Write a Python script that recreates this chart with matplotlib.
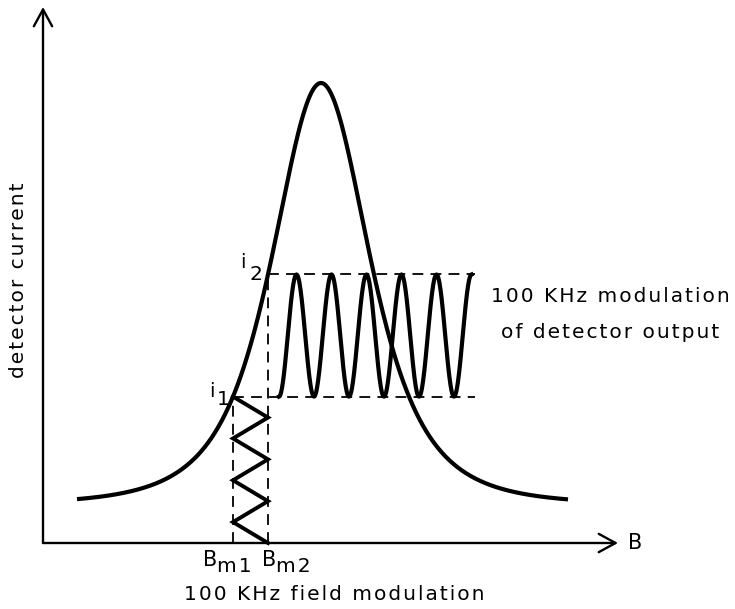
import numpy as np
import matplotlib.pyplot as plt

# absorption line (arbitrary units, origin at the axis corner)
B_center = 278
line_width = 89.2
line_height = 422
background = 38
B_start, B_stop = 34, 525

# field modulation limits
Bm1 = 190
Bm2 = 225
field_halfcycles = 7

# detector output sine
out_start = 236
out_period = 35
out_cycles = 5.5
dash_end = 432

axis_x_end = 575
axis_y_end = 536


def line_shape(B):
    u = (B - B_center) / line_width
    return background + line_height / (1 + u**2)**2


def spaced(s):
    return '\u200a'.join(s)


i1 = line_shape(Bm1)
i2 = line_shape(Bm2)

fig = plt.figure(figsize=(7.35, 6.09), dpi=100)
ax = fig.add_axes([0, 0, 1, 1])
ax.set_xlim(-43, 692)
ax.set_ylim(-66, 543)
ax.axis('off')

# axes with open arrow heads
arrow = dict(arrowstyle='->,head_length=0.55,head_width=0.3', lw=1.7,
             color='black', mutation_scale=22, shrinkA=0, shrinkB=0)
ax.annotate('', xy=(0, axis_y_end), xytext=(0, 0), arrowprops=arrow)
ax.annotate('', xy=(axis_x_end, 0), xytext=(0, 0), arrowprops=arrow)

# the resonance curve
B = np.linspace(B_start, B_stop, 600)
ax.plot(B, line_shape(B), color='black', lw=3, solid_capstyle='butt')

# dashed guide lines
dash = dict(color='black', lw=1.3, dashes=(6, 4))
ax.plot([Bm1, Bm1], [0, i1], **dash)
ax.plot([Bm2, Bm2], [0, i2], **dash)
ax.plot([Bm1, dash_end], [i1, i1], **dash)
ax.plot([Bm2, dash_end], [i2, i2], **dash)

# field modulation zigzag, time running downwards
zy = np.linspace(i1, 0, field_halfcycles + 1)
zx = np.where(np.arange(field_halfcycles + 1) % 2 == 0, Bm1, Bm2)
ax.plot(zx, zy, color='black', lw=2.8, solid_joinstyle='miter')

# detector output
t = np.linspace(0, out_cycles * out_period, 800)
mid = (i1 + i2) / 2
amp = (i2 - i1) / 2
ax.plot(out_start + t, mid - amp * np.cos(2 * np.pi * t / out_period),
        color='black', lw=3)

fs = 14.5
ax.text(-25, 263, spaced('detector current'), rotation=90, fontsize=fs,
        ha='center', va='center')
ax.text(585, 0, 'B', fontsize=15, ha='left', va='center')

ax.text(Bm1 - 21, i1 + 5, 'i', fontsize=fs, ha='center', va='center')
ax.text(Bm1 - 10, i1 - 3, '1', fontsize=fs, ha='center', va='center')
ax.text(Bm2 - 25, i2 + 12, 'i', fontsize=fs, ha='center', va='center')
ax.text(Bm2 - 12, i2, '2', fontsize=fs, ha='center', va='center')

ax.text(Bm1 - 23, -17, 'B', fontsize=15, ha='center', va='center')
ax.text(Bm1 + 1, -23, spaced('m1'), fontsize=fs, ha='center', va='center')
ax.text(Bm2 + 1, -17, 'B', fontsize=15, ha='center', va='center')
ax.text(Bm2 + 25, -23, spaced('m2'), fontsize=fs, ha='center', va='center')

ax.text(291, -52, spaced('100 KHz field modulation'), fontsize=fs,
        ha='center', va='center')
ax.text(567, 246, spaced('100 KHz modulation'), fontsize=fs,
        ha='center', va='center')
ax.text(567, 211, spaced('of detector output'), fontsize=fs,
        ha='center', va='center')

plt.savefig('out.png', dpi=100)
